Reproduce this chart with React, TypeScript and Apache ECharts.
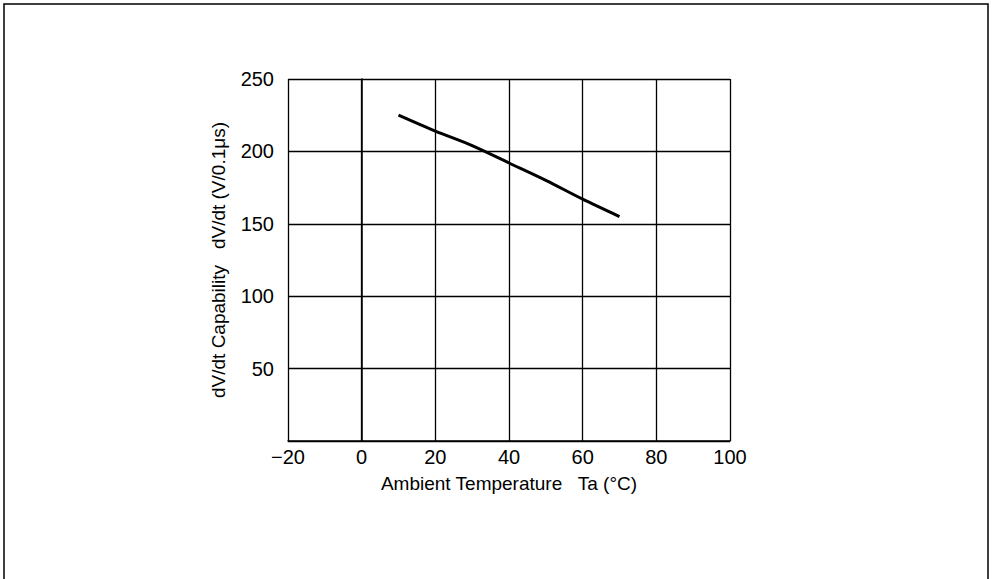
import React, { useEffect, useRef } from "react";
import * as echarts from "echarts";

const temperature = [10, 20, 30, 40, 50, 60, 70];
const capability = [225, 214, 204, 192, 180, 167, 155];
const xTicks = [-20, 0, 20, 40, 60, 80, 100];
const yTicks = [0, 50, 100, 150, 200, 250];

const FONT = '"Liberation Sans Narrow", "Liberation Sans", Arial, sans-serif';

export default function App() {
  const ref = useRef<HTMLDivElement>(null);
  useEffect(() => {
    document.body.style.margin = "0";
    const chart = echarts.init(ref.current!, null, { renderer: "svg" });
    chart.setOption({
      animation: false,
      backgroundColor: "#ffffff",
      grid: { left: 288, right: 263, top: 79, bottom: 138 },
      xAxis: {
        type: "value",
        min: xTicks[0],
        max: xTicks[xTicks.length - 1],
        interval: 20,
        name: "Ambient Temperature   Ta (°C)",
        nameLocation: "middle",
        nameGap: 33,
        nameTextStyle: { fontFamily: FONT, fontSize: 19, color: "#000" },
        axisLine: { show: true, lineStyle: { color: "#000", width: 1.5 } },
        axisTick: { show: false },
        axisLabel: {
          fontFamily: FONT,
          fontSize: 20,
          color: "#000",
          margin: 6,
          formatter: (v: number) => (v < 0 ? "\u2212" + Math.abs(v) : String(v)),
        },
        splitLine: { show: true, lineStyle: { color: "#000", width: 1.3 } },
      },
      yAxis: {
        type: "value",
        min: yTicks[0],
        max: yTicks[yTicks.length - 1],
        interval: 50,
        name: "dV/dt Capability   dV/dt (V/0.1\u03bcs)",
        nameLocation: "middle",
        nameGap: 60,
        nameRotate: 90,
        nameTextStyle: { fontFamily: FONT, fontSize: 19, color: "#000" },
        axisLine: { show: true, lineStyle: { color: "#000", width: 1.5 } },
        axisTick: { show: false },
        axisLabel: {
          fontFamily: FONT,
          fontSize: 20,
          color: "#000",
          margin: 14,
          formatter: (v: number) => (v === 0 ? "" : String(v)),
        },
        splitLine: { show: true, lineStyle: { color: "#000", width: 1.3 } },
      },
      series: [
        {
          type: "line",
          data: temperature.map((t, i) => [t, capability[i]]),
          showSymbol: false,
          smooth: 0.3,
          lineStyle: { color: "#000", width: 3 },
        },
      ],
      graphic: [
        {
          type: "rect",
          shape: { x: 4, y: 4, width: 984, height: 620 },
          style: { fill: "none", stroke: "#000", lineWidth: 1.5 },
          silent: true,
        },
      ],
    });
    return () => chart.dispose();
  }, []);
  return (
    <div
      ref={ref}
      style={{ position: "absolute", left: 0, top: 0, width: 993, height: 579 }}
    />
  );
}
